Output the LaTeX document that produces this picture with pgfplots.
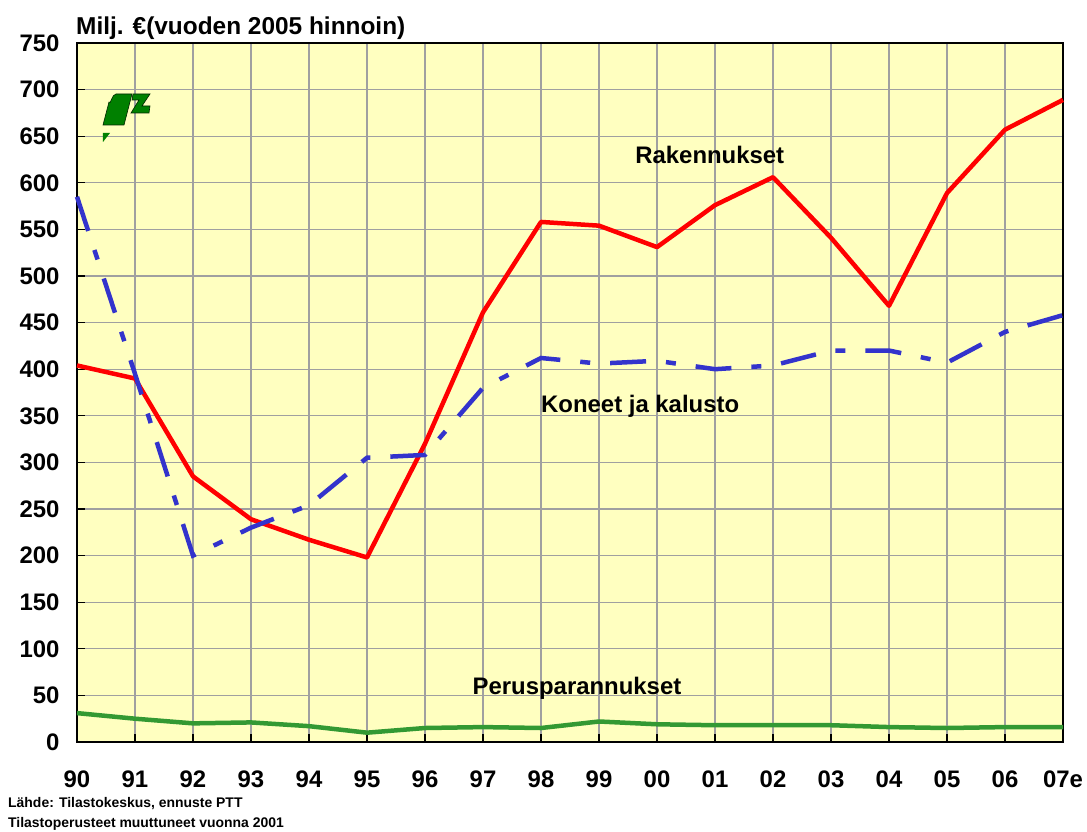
\documentclass[border=0pt]{standalone}
\usepackage{pgfplots}
\pgfplotsset{compat=1.18}
\usepackage{fontspec}
\setmainfont{Liberation Sans}
\definecolor{bgyel}{RGB}{255,255,192}
\definecolor{gridg}{RGB}{160,160,160}
\definecolor{lred}{RGB}{255,0,0}
\definecolor{lblue}{RGB}{51,51,204}
\definecolor{lgreen}{RGB}{51,153,51}
\definecolor{logog}{RGB}{0,128,0}
\begin{document}
\begin{tikzpicture}[x=1bp,y=1bp]
\useasboundingbox (-77,-90) rectangle (1010,742);
\begin{axis}[
  at={(0,0)}, anchor=south west,
  scale only axis, width=986bp, height=699bp,
  xmin=0, xmax=17, ymin=0, ymax=750,
  xtick={0,...,17},
  xticklabels={90,91,92,93,94,95,96,97,98,99,00,01,02,03,04,05,06,07e},
  ytick={0,50,...,750},
  grid=major,
  major grid style={gridg, line width=1.2bp},
  axis background/.style={fill=bgyel},
  axis line style={black, line width=1.6bp},
  tick style={black, line width=1.2bp},
  major tick length=8bp,
  tick align=inside,
  xtick pos=bottom, ytick pos=left,
  ticklabel style={font=\fontsize{24}{28}\selectfont\bfseries},
  /pgf/number format/assume math mode=true,
  x tick label style={yshift=-25bp},
  y tick label style={xshift=-14bp},
  clip=false,
]
\addplot[lred, line width=4.5bp, line join=round] coordinates {
(0,404) (1,390) (2,285) (3,239) (4,217) (5,198) (6,320) (7,461) (8,558)
(9,554) (10,531) (11,576) (12,606) (13,541) (14,468) (15,589) (16,657) (17,689)};
\addplot[lblue, line width=4.5bp, dash pattern=on 36bp off 20bp on 10bp off 20bp] coordinates {
(0,585) (1,395) (2,200) (3,230) (4,254) (5,305) (6,308) (7,380) (8,412)
(9,406) (10,409) (11,400) (12,404) (13,420) (14,420) (15,407) (16,440) (17,458)};
\addplot[lgreen, line width=4.5bp, line join=round] coordinates {
(0,31) (1,25) (2,20) (3,21) (4,17) (5,10) (6,15) (7,16) (8,15)
(9,22) (10,19) (11,18) (12,18) (13,18) (14,16) (15,15) (16,16) (17,16)};
\node[font=\fontsize{24}{28}\selectfont\bfseries] at (axis cs:10.91,630) {Rakennukset};
\node[font=\fontsize{24}{28}\selectfont\bfseries] at (axis cs:9.71,360) {Koneet ja kalusto};
\node[font=\fontsize{24}{28}\selectfont\bfseries] at (axis cs:8.62,58) {Perusparannukset};
\end{axis}
% title
\node[anchor=base west, inner sep=0pt, font=\fontsize{24.5}{28}\selectfont\bfseries] at (-1,707) {Milj. €(vuoden 2005 hinnoin)};
% notes
\node[anchor=base west, inner sep=0pt, font=\fontsize{14}{16}\selectfont\bfseries] at (-69,-66) {Lähde: Tilastokeskus, ennuste PTT};
\node[anchor=base west, inner sep=0pt, font=\fontsize{14}{16}\selectfont\bfseries] at (-69,-86) {Tilastoperusteet muuttuneet vuonna 2001};
% logo
\begin{scope}[shift={(-77,742)}, yscale=-1]
\filldraw[fill=logog, draw=black!70!logog, line width=0.6bp] (103,125) -- (109,102) to[out=70,in=180] (116,94) -- (132,94) -- (124,125) -- cycle;
\filldraw[fill=logog, draw=black!70!logog, line width=0.6bp] (133,94) -- (150,94) -- (142,106) -- (150,106) -- (149,113) -- (131,113) -- (139,100) -- (132,100) -- cycle;
\fill[logog] (103,133) -- (110,133) -- (103,142) -- cycle;
\end{scope}
\end{tikzpicture}
\end{document}
